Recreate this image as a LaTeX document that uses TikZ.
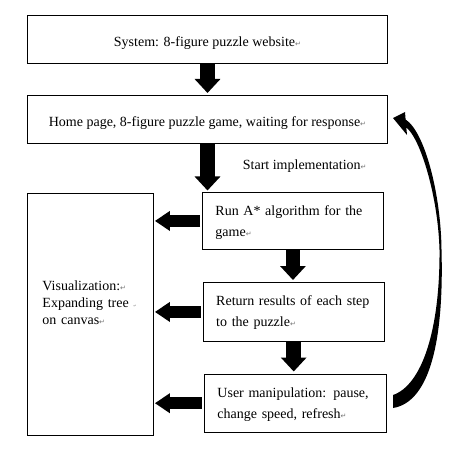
\documentclass[tikz,border=0pt]{standalone}
\usepackage{fontspec}
\setmainfont{Liberation Serif}
\newfontfamily\symfont{DejaVu Sans}
\usetikzlibrary{arrows.meta,calc}
\newcommand{\retmark}{{\symfont\fontsize{7}{7}\selectfont\textcolor{black!55}{↵}}}
\newcommand{\tinymark}{{\symfont\fontsize{4}{4}\selectfont\textcolor{black!45}{↵}}}
\begin{document}
\begin{tikzpicture}[x=1pt,y=-1pt,
  box/.style={draw, line width=0.9pt, inner sep=0pt, anchor=north west,
    font=\fontsize{14}{21}\selectfont},
  lbl/.style={inner sep=0pt, font=\fontsize{14}{21}\selectfont},
  varrow/.style={line width=14.5pt, -{Triangle[width=25pt,length=14pt]}},
  harrow/.style={line width=12pt, -{Triangle[width=19pt,length=15pt]}},
  crescent/.style={fill=black}
]
\useasboundingbox (0,0) rectangle (448,454);

\node[box, minimum width=360pt, minimum height=48pt, text height=31pt, text depth=17pt]
  (b1) at (27,15) {System: 8-figure puzzle website\retmark\hspace{16pt}};
\node[box, minimum width=360pt, minimum height=48pt, text height=31pt, text depth=17pt]
  (b2) at (27,95) {Home page, 8-figure puzzle game, waiting for response\retmark};

\node[box, minimum width=181pt, minimum height=57pt, text width=155pt, align=left,
  text height=23.5pt, text depth=33.5pt]
  (b3) at (202,192) {\makebox[155pt][s]{Run A* algorithm for the}\\game\retmark};
\node[box, minimum width=181.5pt, minimum height=59pt, text width=155pt, align=left,
  text height=23.5pt, text depth=35.5pt]
  (b4) at (202.5,282) {\makebox[155pt][s]{Return results of each step}\\to the puzzle\retmark};
\node[box, minimum width=182pt, minimum height=58.5pt, text width=155pt, align=left,
  text height=23.5pt, text depth=35pt]
  (b5) at (203.5,373.5) {\makebox[155pt][s]{User manipulation: pause,}\\change speed, refresh\retmark};

\node[box, minimum width=126pt, minimum height=242pt, text width=96pt, align=left,
  font=\fontsize{14}{17}\selectfont, text height=97pt, text depth=145pt]
  (vis) at (27,193) {Visualization:\retmark\\Expanding tree \tinymark\\on canvas\retmark};

\node[lbl, anchor=base west] (start) at (242.7,170) {Start implementation\retmark};

\coordinate (ax) at (207.5,0);
\draw[varrow] (b1.south -| ax) -- ($(b2.north -| ax)+(0,-2)$);
\draw[varrow] (b2.south -| ax) -- ($(b3.north -| ax)+(0,-1.5)$);
\draw[varrow] (b3.south) -- ($(b4.north -| b3.south)+(0,-2)$);
\draw[varrow] (b4.south) -- ($(b5.north -| b4.south)+(0,-2)$);

\draw[harrow] ($(b3.west)+(-2,0)$) -- ($(vis.east |- b3.west)+(1,0)$);
\draw[harrow] ($(b4.west)+(-2,0)$) -- ($(vis.east |- b4.west)+(1,0)$);
\draw[harrow] ($(b5.west)+(-2,0)$) -- ($(vis.east |- b5.west)+(1,0)$);

% curved return arrow from b5 back to b2
\fill[crescent] (393,408)
  .. controls (430,402) and (444,340) .. (441.5,250)
  .. controls (441,195) and (425,132) .. (405.6,119.5)
  -- (405,112) -- (393,118) -- (407,135) -- (406.3,127.5)
  .. controls (420,138) and (438,195) .. (439.5,250)
  .. controls (440,330) and (422,385) .. (393,395)
  -- cycle;
\end{tikzpicture}
\end{document}
